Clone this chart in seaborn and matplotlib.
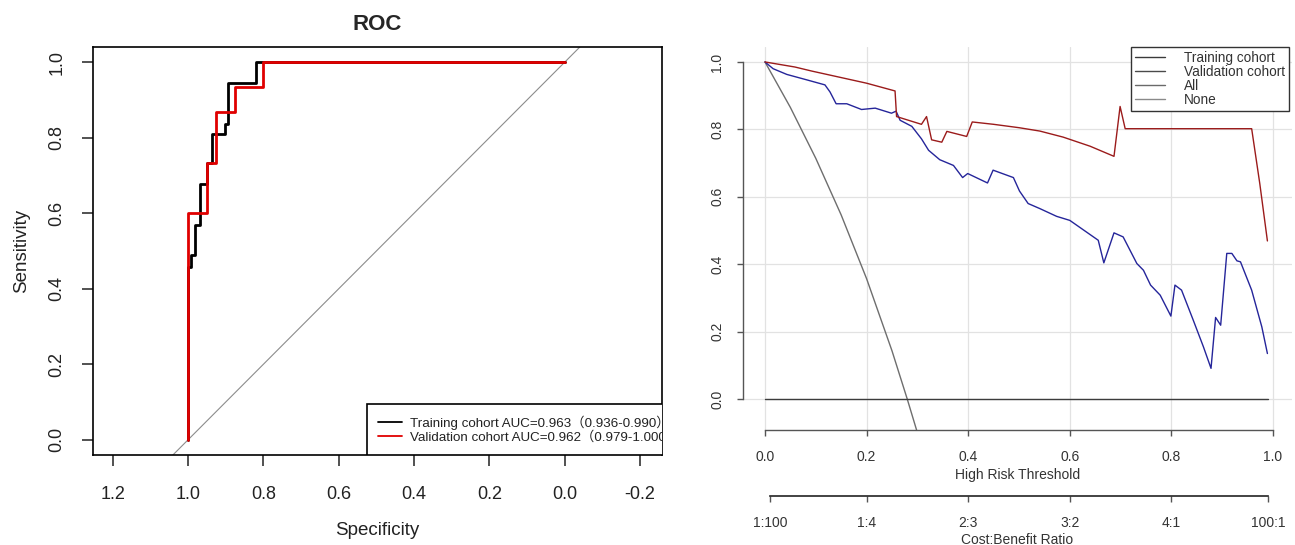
import numpy as np
import pandas as pd
import matplotlib
matplotlib.use("Agg")
import matplotlib.pyplot as plt
import seaborn as sns
from matplotlib.lines import Line2D

# ---------------- ROC data (specificity, sensitivity vertices) ----------------
train_spec = [1.0, 1.0, 0.991, 0.991, 0.980, 0.980, 0.967, 0.967, 0.949, 0.949,
              0.935, 0.935, 0.902, 0.902, 0.893, 0.893, 0.820, 0.820, 0.0]
train_sens = [0.0, 0.458, 0.458, 0.489, 0.489, 0.570, 0.570, 0.677, 0.677, 0.733,
              0.733, 0.811, 0.811, 0.837, 0.837, 0.944, 0.944, 1.0, 1.0]
valid_spec = [1.0, 1.0, 0.95, 0.95, 0.925, 0.925, 0.875, 0.875, 0.80, 0.80, 0.0]
valid_sens = [0.0, 0.60, 0.60, 0.733, 0.733, 0.867, 0.867, 0.933, 0.933, 1.0, 1.0]
diag_spec = [1.0, 0.0]
diag_sens = [0.0, 1.0]
roc_xticks = [1.2, 1.0, 0.8, 0.6, 0.4, 0.2, 0.0, -0.2]
roc_xlabels = ["1.2", "1.0", "0.8", "0.6", "0.4", "0.2", "0.0", "-0.2"]
roc_yticks = [0.0, 0.2, 0.4, 0.6, 0.8, 1.0]
roc_ylabels = ["0.0", "0.2", "0.4", "0.6", "0.8", "1.0"]
roc_legend = ["Training cohort AUC=0.963（0.936-0.990）",
              "Validation cohort AUC=0.962（0.979-1.000）"]

# ---------------- DCA data (threshold, standardized net benefit) ----------------
train_pt = [0.0, 0.059, 0.092, 0.161, 0.200, 0.256, 0.259, 0.308, 0.318, 0.328,
            0.348, 0.358, 0.397, 0.408, 0.450, 0.500, 0.541, 0.587, 0.640, 0.687,
            0.699, 0.709, 0.958, 0.974, 0.989]
train_nb = [1.0, 0.985, 0.973, 0.950, 0.937, 0.914, 0.838, 0.815, 0.838, 0.769,
            0.762, 0.794, 0.779, 0.822, 0.815, 0.805, 0.795, 0.777, 0.750, 0.720,
            0.868, 0.802, 0.802, 0.639, 0.469]
valid_pt = [0.0, 0.016, 0.043, 0.082, 0.118, 0.128, 0.140, 0.161, 0.190, 0.217,
            0.249, 0.258, 0.266, 0.289, 0.308, 0.322, 0.344, 0.371, 0.389, 0.399,
            0.438, 0.449, 0.489, 0.501, 0.518, 0.541, 0.574, 0.600, 0.656, 0.667,
            0.687, 0.705, 0.732, 0.745, 0.759, 0.778, 0.799, 0.807, 0.820, 0.843,
            0.863, 0.878, 0.887, 0.897, 0.909, 0.919, 0.929, 0.936, 0.958, 0.978,
            0.989]
valid_nb = [1.0, 0.980, 0.963, 0.947, 0.932, 0.911, 0.876, 0.876, 0.859, 0.863,
            0.848, 0.854, 0.827, 0.809, 0.772, 0.738, 0.710, 0.693, 0.657, 0.669,
            0.641, 0.679, 0.657, 0.617, 0.580, 0.565, 0.542, 0.530, 0.471, 0.404,
            0.493, 0.481, 0.402, 0.382, 0.338, 0.308, 0.246, 0.338, 0.323, 0.234,
            0.155, 0.091, 0.242, 0.219, 0.432, 0.432, 0.410, 0.407, 0.323, 0.214,
            0.135]
all_pt = [0.0, 0.05, 0.10, 0.15, 0.20, 0.25, 0.28, 0.30]
all_nb = [1.0, 0.865, 0.714, 0.546, 0.357, 0.143, 0.0, -0.10]
none_pt = [0.0, 0.99]
none_nb = [0.0, 0.0]
dca_ticks = [0.0, 0.2, 0.4, 0.6, 0.8, 1.0]
dca_ticklabels = ["0.0", "0.2", "0.4", "0.6", "0.8", "1.0"]
cb_ticks = [0.0099, 0.2, 0.4, 0.6, 0.8, 0.9901]
cb_labels = ["1:100", "1:4", "2:3", "3:2", "4:1", "100:1"]
dca_legend = ["Training cohort", "Validation cohort", "All", "None"]

# ---------------- style ----------------
sns.set_theme(style="ticks")
plt.rcParams['font.family'] = ['Liberation Sans', 'Noto Sans CJK SC', 'DejaVu Sans']
plt.rcParams['axes.unicode_minus'] = False

W, H = 1295, 545
fig = plt.figure(figsize=(W / 100, H / 100), dpi=100)
fig.patch.set_facecolor('white')

# ================= Left: ROC =================
ax1 = fig.add_axes([93 / W, (H - 455) / H, 569 / W, 408 / H])
ax1.set_facecolor('white')
ax1.axline((diag_spec[0], diag_sens[0]), (diag_spec[1], diag_sens[1]),
           color='#8c8c8c', lw=0.8, zorder=1)
sns.lineplot(data=pd.DataFrame({'spec': train_spec, 'sens': train_sens}),
             x='spec', y='sens', sort=False, estimator=None, color='black',
             lw=2.0, ax=ax1, zorder=2)
sns.lineplot(data=pd.DataFrame({'spec': valid_spec, 'sens': valid_sens}),
             x='spec', y='sens', sort=False, estimator=None, color='#e00000',
             lw=2.0, ax=ax1, zorder=3)
ax1.set_xlim(1.252, -0.258)
ax1.set_ylim(-0.04, 1.04)
ax1.set_xticks(roc_xticks, labels=roc_xlabels)
ax1.set_yticks(roc_yticks, labels=roc_ylabels)
ax1.tick_params(axis='both', direction='out', length=8, width=1.2, color='#333333',
                labelsize=13, labelcolor='#222222')
ax1.tick_params(axis='x', pad=14)
ax1.tick_params(axis='y', pad=12)
for lab in ax1.get_yticklabels():
    lab.set_rotation(90)
    lab.set_va('center')
for sp in ax1.spines.values():
    sp.set_visible(True)
    sp.set_color('black')
    sp.set_linewidth(1.2)
ax1.set_xlabel('Specificity', fontsize=13.5, labelpad=14, color='#222222')
ax1.set_ylabel('Sensitivity', fontsize=13.5, labelpad=13, color='#222222')
ax1.set_title('ROC', fontsize=16, fontweight='bold', pad=12)

h1 = [Line2D([], [], color='black', lw=1.3), Line2D([], [], color='#e00000', lw=1.3)]
leg1 = ax1.legend(h1, roc_legend, loc='lower left',
                  bbox_to_anchor=((367 - 93) / 569, 0.0), borderaxespad=0,
                  fontsize=9.6, fancybox=False, edgecolor='black', framealpha=1,
                  labelspacing=0.1, handlelength=1.75, handletextpad=0.65,
                  borderpad=0.85)
leg1.get_frame().set_linewidth(1.2)
for t in leg1.get_texts():
    t.set_color('#222222')
    t.set_clip_box(ax1.bbox)
    t.set_clip_on(True)
leg1.legendPatch.set_clip_box(ax1.bbox)
leg1.legendPatch.set_clip_on(True)

# ================= Right: DCA =================
ax2 = fig.add_axes([743 / W, (H - 430) / H, 549 / W, 383 / H])
ax2.set_facecolor('white')
ax2.set_axisbelow(True)
ax2.grid(True, color='#e2e2e2', lw=0.9)
sns.lineplot(x=all_pt, y=all_nb, sort=False, estimator=None, color='#6e6e6e',
             lw=1.0, ax=ax2)
sns.lineplot(x=none_pt, y=none_nb, sort=False, estimator=None, color='#3c3c3c',
             lw=1.0, ax=ax2)
sns.lineplot(x=valid_pt, y=valid_nb, sort=False, estimator=None, color='#25259a',
             lw=1.0, ax=ax2)
sns.lineplot(x=train_pt, y=train_nb, sort=False, estimator=None, color='#9b1b1b',
             lw=1.0, ax=ax2)
ax2.set_xlim(-0.0433, 1.0374)
ax2.set_ylim(-0.0919, 1.0444)
ax2.set_xticks(dca_ticks, labels=dca_ticklabels)
ax2.set_yticks(dca_ticks, labels=dca_ticklabels)
for s in ['top', 'right']:
    ax2.spines[s].set_visible(False)
ax2.spines['left'].set_bounds(0, 1)
ax2.spines['bottom'].set_bounds(0, 1)
for s in ['left', 'bottom']:
    ax2.spines[s].set_color('#555555')
    ax2.spines[s].set_linewidth(1.0)
ax2.tick_params(axis='both', direction='out', length=4.5, width=1.0, color='#555555',
                labelsize=10, labelcolor='#333333')
ax2.tick_params(axis='x', pad=10)
ax2.tick_params(axis='y', pad=9)
for lab in ax2.get_yticklabels():
    lab.set_rotation(90)
    lab.set_va('center')
ax2.set_xlabel('High Risk Threshold', fontsize=10, labelpad=3, color='#333333')

sec = ax2.secondary_xaxis((430 - 496) / 383)
sec.set_xticks(cb_ticks, labels=cb_labels)
sec.spines['bottom'].set_bounds(cb_ticks[0], cb_ticks[-1])
sec.spines['bottom'].set_color('#222222')
sec.spines['bottom'].set_linewidth(1.2)
sec.tick_params(axis='x', direction='out', length=4.5, width=1.0, color='#555555',
                labelsize=10, labelcolor='#333333', pad=10)
sec.set_xlabel('Cost:Benefit Ratio', fontsize=10, labelpad=2, color='#333333')

h2 = [Line2D([], [], color=c, lw=1.0) for c in ['#3a3a3a', '#4a4a4a', '#6a6a6a', '#8a8a8a']]
leg2 = ax2.legend(h2, dca_legend, loc='upper right', bbox_to_anchor=(1 - 3 / 549, 1.0),
                  borderaxespad=0, fontsize=9.8, fancybox=False, edgecolor='#333333',
                  framealpha=1, labelspacing=0.0, handlelength=2.2,
                  handletextpad=1.4, borderpad=0.3)
leg2.get_frame().set_linewidth(1.0)
for t in leg2.get_texts():
    t.set_color('#333333')

fig.savefig('out.png', dpi=100, facecolor='white')
